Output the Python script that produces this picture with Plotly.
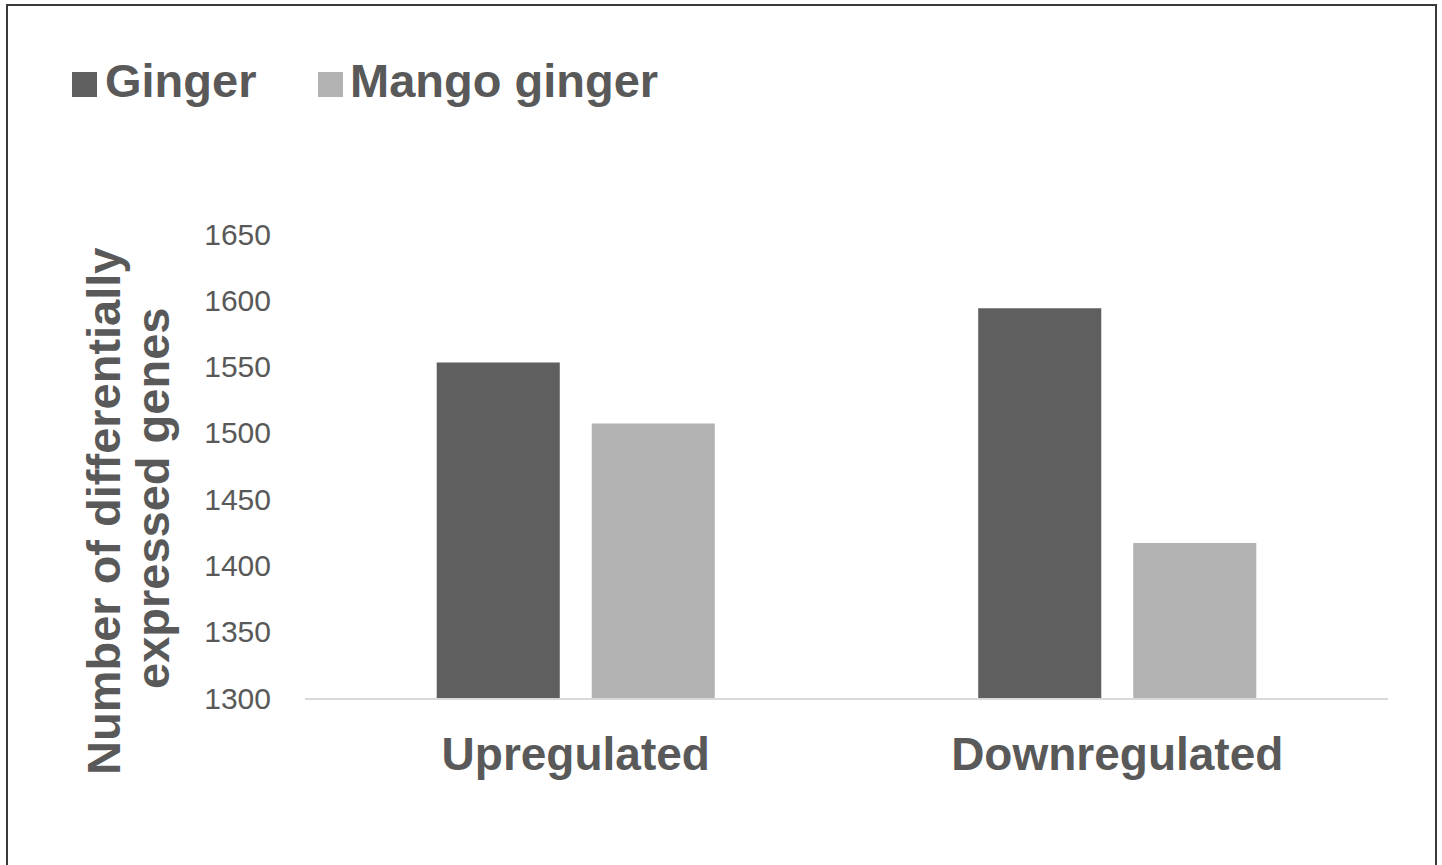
import plotly.graph_objects as go

categories = ["Upregulated", "Downregulated"]
series_names = ["Ginger", "Mango ginger"]
ginger_values = [1553, 1594]
mango_values = [1507, 1417]
y_ticks = [1300, 1350, 1400, 1450, 1500, 1550, 1600, 1650]
y_title_lines = ["Number of differentially", "expressed genes"]

colors = ["#5f5f5f", "#b3b3b3"]
text_color = "#595959"
font_family = "Liberation Sans, Arial, sans-serif"

W, H = 1442, 865
L, R, T, B = 305, 54, 234, 167
pw, ph = W - L - R, H - T - B


def px_x(x):
    return (x - L) / pw


def px_y(y):
    return (H - B - y) / ph


fig = go.Figure()
for name, vals, col in zip(series_names, [ginger_values, mango_values], colors):
    fig.add_trace(go.Bar(x=categories, y=vals, name=name, marker_color=col,
                         marker_line_width=0, showlegend=False))

shapes = [
    # outer frame
    dict(type="rect", xref="paper", yref="paper",
         x0=px_x(7), x1=px_x(1436), y0=px_y(5), y1=px_y(880),
         line=dict(color="#3a3a3a", width=2), fillcolor="rgba(0,0,0,0)", layer="below"),
]
annotations = []
# legend swatches + labels
legend_pos = [(72, 105), (318, 350)]
for (sx, tx), name, col in zip(legend_pos, series_names, colors):
    shapes.append(dict(type="rect", xref="paper", yref="paper",
                       x0=px_x(sx), x1=px_x(sx + 25), y0=px_y(97), y1=px_y(72),
                       line=dict(width=0), fillcolor=col))
    annotations.append(dict(text="<b>%s</b>" % name, xref="paper", yref="paper",
                            x=px_x(tx - 2), y=px_y(80), xanchor="left", yanchor="middle",
                            showarrow=False,
                            font=dict(size=47, color=text_color, family=font_family)))

# y-axis title, two tightly spaced lines
for line, cx, cy in zip(y_title_lines, [103, 152], [511, 499]):
    annotations.append(dict(text="<b>%s</b>" % line,
                            xref="paper", yref="paper", x=px_x(cx), y=px_y(cy),
                            xanchor="center", yanchor="middle", textangle=-90,
                            showarrow=False,
                            font=dict(size=47, color=text_color, family=font_family)))

fig.update_layout(
    width=W, height=H,
    margin=dict(l=L, r=R, t=T, b=B),
    paper_bgcolor="white", plot_bgcolor="white",
    barmode="group", bargap=0.4275, bargroupgap=0.206,
    shapes=shapes, annotations=annotations,
    showlegend=False,
)
fig.update_xaxes(showgrid=False, showline=True, linecolor="#d9d9d9", linewidth=2,
                 ticks="", ticklabelstandoff=15,
                 tickfont=dict(size=46, color=text_color, family=font_family),
                 tickprefix="<b>", ticksuffix="</b>")
fig.update_yaxes(range=[1300, 1650], tickvals=y_ticks, showgrid=False, zeroline=False,
                 showline=False, ticks="", ticklabelstandoff=33,
                 tickfont=dict(size=30, color=text_color, family=font_family))

fig.write_html("out.html")
